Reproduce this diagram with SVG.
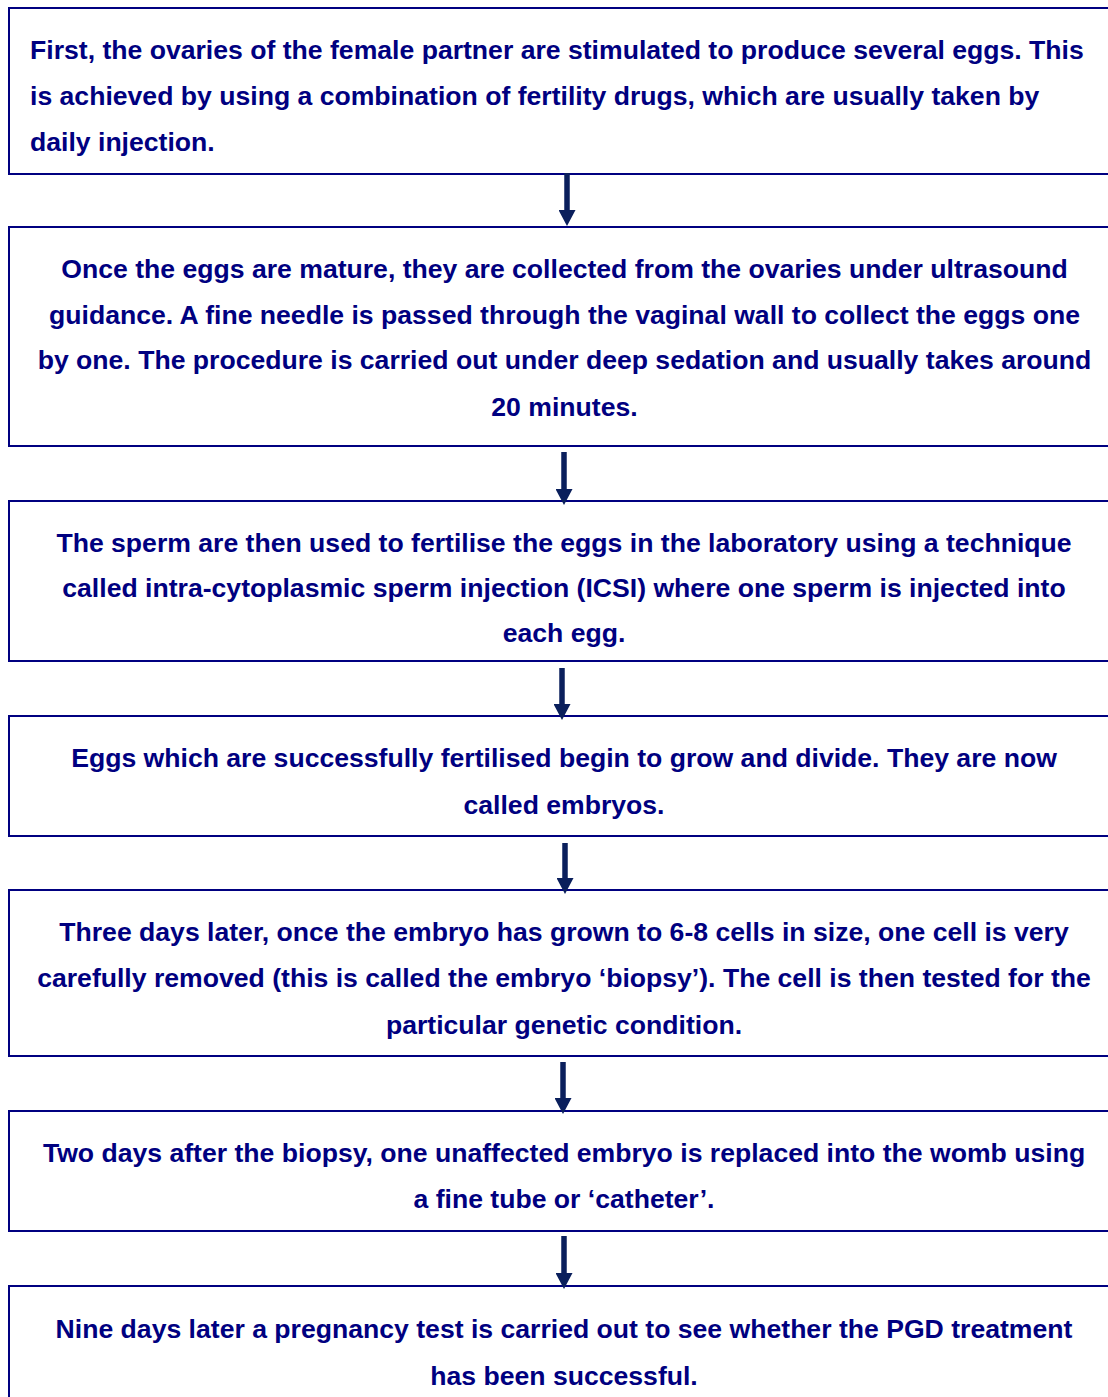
<svg xmlns="http://www.w3.org/2000/svg" width="1108" height="1397" viewBox="0 0 1108 1397">
<defs>
<style>
.box{fill:#ffffff;stroke:#000080;stroke-width:2}
.t{font-family:"Liberation Sans",Arial,sans-serif;font-weight:bold;font-size:26.6px;fill:#000080}
.c{text-anchor:middle}
.arr{stroke:#0a1f5c;stroke-width:5.5;fill:none}
.head{fill:#0a1f5c}
</style>
<marker id="ah" markerUnits="userSpaceOnUse" markerWidth="17" markerHeight="17" refX="0" refY="8.5" orient="auto" viewBox="0 0 17 17">
<path d="M0,0 L16,8.5 L0,17 Z" class="head"/>
</marker>
</defs>
<rect width="1108" height="1397" fill="#ffffff"/>
<g id="node1">
<rect class="box" x="9" y="8" width="1110" height="166"/>
<text class="t" x="30" y="59">First, the ovaries of the female partner are stimulated to produce several eggs. This</text>
<text class="t" x="30" y="105">is achieved by using a combination of fertility drugs, which are usually taken by</text>
<text class="t" x="30" y="151">daily injection.</text>
</g>
<g id="node2">
<rect class="box" x="9" y="227" width="1110" height="219"/>
<text class="t c" x="564.5" y="277.5">Once the eggs are mature, they are collected from the ovaries under ultrasound</text>
<text class="t c" x="564.5" y="323.5">guidance. A fine needle is passed through the vaginal wall to collect the eggs one</text>
<text class="t c" x="564.5" y="369">by one. The procedure is carried out under deep sedation and usually takes around</text>
<text class="t c" x="564.5" y="415.5">20 minutes.</text>
</g>
<g id="node3">
<rect class="box" x="9" y="501" width="1110" height="160"/>
<text class="t c" x="564" y="551.5">The sperm are then used to fertilise the eggs in the laboratory using a technique</text>
<text class="t c" x="564" y="596.5">called intra-cytoplasmic sperm injection (ICSI) where one sperm is injected into</text>
<text class="t c" x="564" y="641.5">each egg.</text>
</g>
<g id="node4">
<rect class="box" x="9" y="716" width="1110" height="120"/>
<text class="t c" x="564" y="766.5">Eggs which are successfully fertilised begin to grow and divide. They are now</text>
<text class="t c" x="564" y="813.5">called embryos.</text>
</g>
<g id="node5">
<rect class="box" x="9" y="890" width="1110" height="166"/>
<text class="t c" x="564" y="941">Three days later, once the embryo has grown to 6-8 cells in size, one cell is very</text>
<text class="t c" x="564" y="987">carefully removed (this is called the embryo ‘biopsy’). The cell is then tested for the</text>
<text class="t c" x="564" y="1034">particular genetic condition.</text>
</g>
<g id="node6">
<rect class="box" x="9" y="1111" width="1110" height="120"/>
<text class="t c" x="564" y="1162">Two days after the biopsy, one unaffected embryo is replaced into the womb using</text>
<text class="t c" x="564" y="1208">a fine tube or ‘catheter’.</text>
</g>
<g id="node7">
<rect class="box" x="9" y="1286" width="1110" height="200"/>
<text class="t c" x="564" y="1338">Nine days later a pregnancy test is carried out to see whether the PGD treatment</text>
<text class="t c" x="564" y="1385">has been successful.</text>
</g>
<g id="connectors">
<line class="arr" x1="567" y1="173" x2="567" y2="210" marker-end="url(#ah)"/>
<line class="arr" x1="564" y1="452" x2="564" y2="489" marker-end="url(#ah)"/>
<line class="arr" x1="562" y1="668" x2="562" y2="704" marker-end="url(#ah)"/>
<line class="arr" x1="565" y1="843" x2="565" y2="878" marker-end="url(#ah)"/>
<line class="arr" x1="563" y1="1062" x2="563" y2="1098" marker-end="url(#ah)"/>
<line class="arr" x1="564" y1="1236" x2="564" y2="1273" marker-end="url(#ah)"/>
</g>
</svg>
